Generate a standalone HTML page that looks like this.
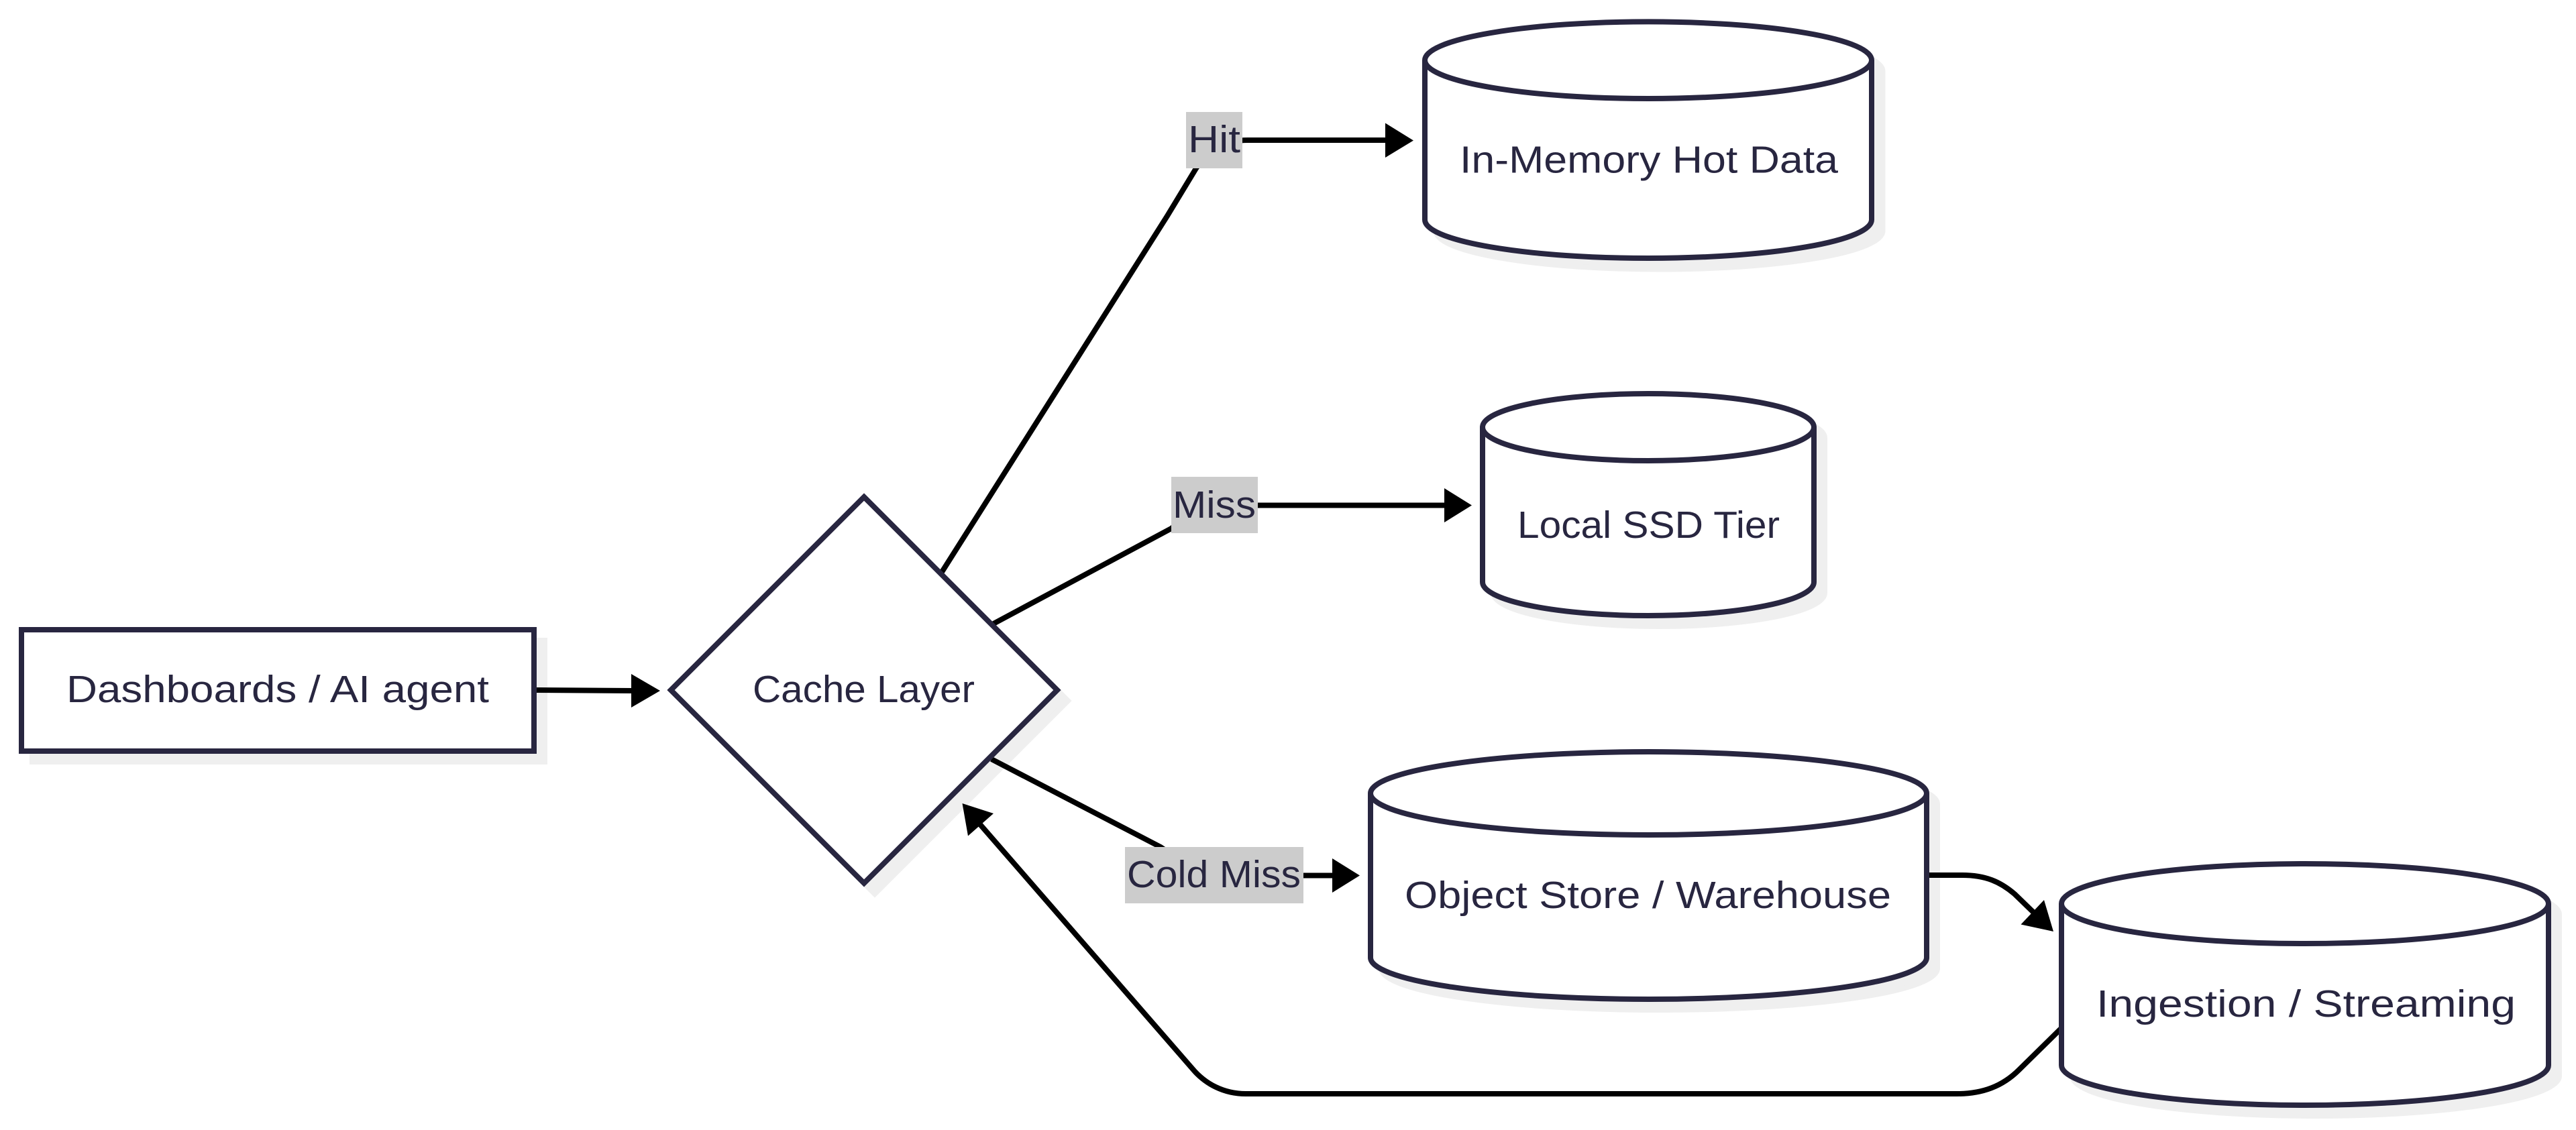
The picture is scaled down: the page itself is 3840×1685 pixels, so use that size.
<!DOCTYPE html>
<html lang="en">
<head>
<meta charset="utf-8">
<title>Cache Layer Diagram</title>
<style>
html,body{margin:0;padding:0;background:#fff;width:3840px;height:1685px;overflow:hidden}
svg{display:block}
text{font-family:"Liberation Sans",sans-serif;font-size:57px;fill:#282640}
.s{fill:#efefef;stroke:#efefef;stroke-width:8}
.n{fill:#fff;stroke:#282640;stroke-width:8}
.e{fill:none;stroke:#000;stroke-width:8}
</style>
</head>
<body>
<svg xmlns="http://www.w3.org/2000/svg" width="3840" height="1685" viewBox="0 0 3840 1685">
<rect width="3840" height="1685" fill="#fff"/>

<!-- shadows -->
<rect class="s" x="48" y="955" width="764" height="181"/>
<polygon class="s" points="1304,757 1592,1045 1304,1333 1016,1045"/>
<path class="s" d="M2140.5,106.2 a333,57.3 0 0 1 666,0 l0,238 a333,57.3 0 0 1 -666,0 z"/>
<path class="s" d="M2226,653 a247,50 0 0 1 494,0 l0,231 a247,50 0 0 1 -494,0 z"/>
<path class="s" d="M2059,1199 a414.5,62 0 0 1 829,0 l0,245 a414.5,62 0 0 1 -829,0 z"/>
<path class="s" d="M3089,1363.5 a363,59.5 0 0 1 726,0 l0,241 a363,59.5 0 0 1 -726,0 z"/>

<!-- edges -->
<path class="e" d="M800,1029 L945,1030"/>
<path class="e" d="M1404,853 L1740,322 L1783,251 Q1812,209 1860,209 L2070,209"/>
<path class="e" d="M1481,930 L1746,788 Q1790,753 1830,753.5 L2158,753.5"/>
<path class="e" d="M1478,1132 L1730,1263 Q1790,1305 1830,1305.5 L1990,1305.5"/>
<path class="e" d="M2872,1305 L2925,1305 C2960,1305 2982,1315 3003,1333 L3035,1364"/>
<path class="e" d="M3073,1533 L3010,1595 C2985,1620 2955,1631 2917,1631 L1857,1631 C1825,1631 1797,1617 1777,1593 L1459,1227"/>

<!-- arrowheads -->
<polygon points="941,1005 984,1030 941,1055" fill="#000"/>
<polygon points="2065,183.5 2107,209.5 2065,235" fill="#000"/>
<polygon points="2153,728 2194,753.5 2153,779" fill="#000"/>
<polygon points="1986,1280 2027,1305.5 1986,1331" fill="#000"/>
<polygon points="3061,1389 3047,1342 3012.5,1378.5" fill="#000"/>
<polygon points="1434.5,1198 1481,1213 1443,1246.5" fill="#000"/>

<!-- nodes -->
<rect class="n" x="32" y="939" width="764" height="181"/>
<polygon class="n" points="1288,741 1576,1029 1288,1317 1000,1029"/>

<path class="n" d="M2124,89.7 a333,57.3 0 0 1 666,0 l0,238 a333,57.3 0 0 1 -666,0 z"/>
<path fill="none" stroke="#282640" stroke-width="8" d="M2124,89.7 a333,57.3 0 0 0 666,0"/>

<path class="n" d="M2210,637 a247,50 0 0 1 494,0 l0,231 a247,50 0 0 1 -494,0 z"/>
<path fill="none" stroke="#282640" stroke-width="8" d="M2210,637 a247,50 0 0 0 494,0"/>

<path class="n" d="M2043,1183 a414.5,62 0 0 1 829,0 l0,245 a414.5,62 0 0 1 -829,0 z"/>
<path fill="none" stroke="#282640" stroke-width="8" d="M2043,1183 a414.5,62 0 0 0 829,0"/>

<path class="n" d="M3073,1347.5 a363,59.5 0 0 1 726,0 l0,241 a363,59.5 0 0 1 -726,0 z"/>
<path fill="none" stroke="#282640" stroke-width="8" d="M3073,1347.5 a363,59.5 0 0 0 726,0"/>

<!-- edge labels -->
<rect x="1768" y="167" width="84" height="84" fill="#ccc"/>
<rect x="1746" y="711" width="129" height="84" fill="#ccc"/>
<rect x="1677" y="1263" width="266" height="84" fill="#ccc"/>
<text x="1771" y="227" textLength="78" lengthAdjust="spacingAndGlyphs">Hit</text>
<text x="1748" y="772" textLength="124" lengthAdjust="spacingAndGlyphs">Miss</text>
<text x="1680" y="1323" textLength="259" lengthAdjust="spacingAndGlyphs">Cold Miss</text>

<!-- node labels -->
<text x="99" y="1047" textLength="630" lengthAdjust="spacingAndGlyphs">Dashboards / AI agent</text>
<text x="1122" y="1047" textLength="331" lengthAdjust="spacingAndGlyphs">Cache Layer</text>
<text x="2176" y="257.5" textLength="564" lengthAdjust="spacingAndGlyphs">In-Memory Hot Data</text>
<text x="2262" y="802" textLength="391" lengthAdjust="spacingAndGlyphs">Local SSD Tier</text>
<text x="2094" y="1354" textLength="725" lengthAdjust="spacingAndGlyphs">Object Store / Warehouse</text>
<text x="3125" y="1516" textLength="625" lengthAdjust="spacingAndGlyphs">Ingestion / Streaming</text>
</svg>
</body>
</html>
